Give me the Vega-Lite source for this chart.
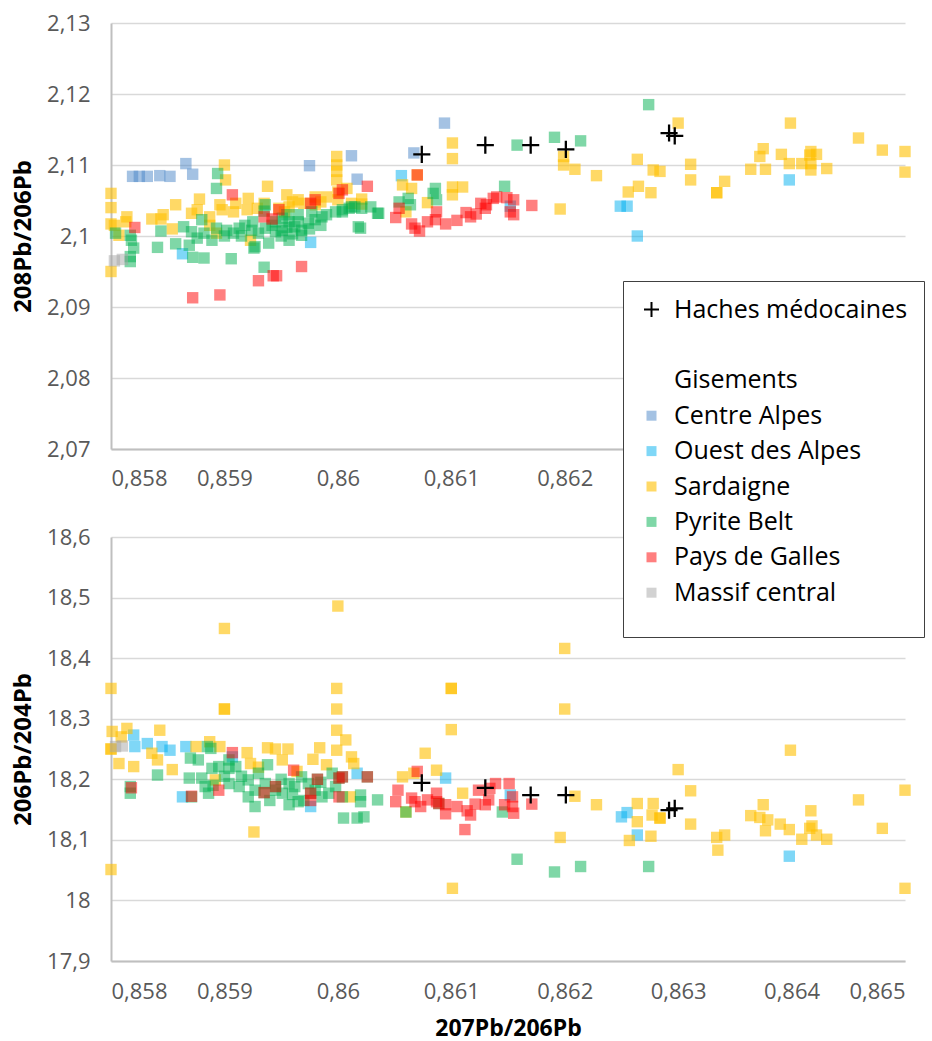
{
  "$schema": "https://vega.github.io/schema/vega-lite/v6.json",
  "background": "white",
  "padding": {"left": 11, "top": 12, "right": 0, "bottom": 0},
  "spacing": 88,
  "bounds": "flush",
  "config": {
    "view": {"stroke": null},
    "axis": {
      "labelFont": "Open Sans", "labelFontSize": 22, "labelColor": "#595959",
      "titleFont": "Open Sans", "titleFontSize": 24, "titleFontWeight": "bold", "titleColor": "#000000",
      "gridColor": "#d9d9d9", "gridWidth": 1.5, "domainColor": "#bfbfbf", "domainWidth": 2, "ticks": false
    },
    "legend": {
      "orient": "none", "legendX": 512, "legendY": 258, "zindex": 5,
      "titleOrient": "bottom", "titleFont": "Open Sans", "titleFontSize": 10, "titlePadding": 5,
      "labelFont": "Open Sans", "labelFontSize": 25, "labelColor": "#000000", "labelLimit": 400,
      "rowPadding": 9.4, "labelOffset": 10, "padding": 16,
      "strokeColor": "#404040", "fillColor": "#ffffff", "symbolStrokeWidth": 0
    }
  },
  "datasets": {
    "haut": [
      {"g":"Centre Alpes","x":0.85819,"y":2.1084},{"g":"Centre Alpes","x":0.85825,"y":2.1084},{"g":"Centre Alpes","x":0.85832,"y":2.1084},{"g":"Centre Alpes","x":0.85843,"y":2.1085},{"g":"Centre Alpes","x":0.85852,"y":2.1084},{"g":"Centre Alpes","x":0.85866,"y":2.1102},{"g":"Centre Alpes","x":0.85872,"y":2.1087},{"g":"Centre Alpes","x":0.85975,"y":2.1099},{"g":"Centre Alpes","x":0.86012,"y":2.1113},{"g":"Centre Alpes","x":0.86017,"y":2.108},{"g":"Centre Alpes","x":0.86067,"y":2.1117},{"g":"Centre Alpes","x":0.86094,"y":2.1159},
      {"g":"Ouest des Alpes","x":0.85863,"y":2.0975},{"g":"Ouest des Alpes","x":0.85976,"y":2.0991},{"g":"Ouest des Alpes","x":0.86056,"y":2.1085},{"g":"Ouest des Alpes","x":0.86152,"y":2.1042},{"g":"Ouest des Alpes","x":0.86249,"y":2.1042},{"g":"Ouest des Alpes","x":0.86255,"y":2.1042},{"g":"Ouest des Alpes","x":0.86264,"y":2.1},{"g":"Ouest des Alpes","x":0.86398,"y":2.1079},
      {"g":"Sardaigne","x":0.858,"y":2.106},{"g":"Sardaigne","x":0.858,"y":2.104},{"g":"Sardaigne","x":0.858,"y":2.1017},{"g":"Sardaigne","x":0.85803,"y":2.1015},{"g":"Sardaigne","x":0.85807,"y":2.1001},{"g":"Sardaigne","x":0.85813,"y":2.102},{"g":"Sardaigne","x":0.85814,"y":2.1027},{"g":"Sardaigne","x":0.858,"y":2.095},{"g":"Sardaigne","x":0.85836,"y":2.1024},{"g":"Sardaigne","x":0.85844,"y":2.1024},{"g":"Sardaigne","x":0.85846,"y":2.103},{"g":"Sardaigne","x":0.85854,"y":2.101},{"g":"Sardaigne","x":0.85857,"y":2.1044},{"g":"Sardaigne","x":0.85871,"y":2.1032},{"g":"Sardaigne","x":0.85876,"y":2.1037},{"g":"Sardaigne","x":0.85878,"y":2.1052},{"g":"Sardaigne","x":0.85887,"y":2.1027},{"g":"Sardaigne","x":0.85887,"y":2.1015},{"g":"Sardaigne","x":0.85893,"y":2.1004},{"g":"Sardaigne","x":0.85896,"y":2.1044},{"g":"Sardaigne","x":0.85898,"y":2.1037},{"g":"Sardaigne","x":0.859,"y":2.11},{"g":"Sardaigne","x":0.85901,"y":2.1079},{"g":"Sardaigne","x":0.85908,"y":2.1034},{"g":"Sardaigne","x":0.8591,"y":2.1046},{"g":"Sardaigne","x":0.8592,"y":2.1037},{"g":"Sardaigne","x":0.85921,"y":2.1053},{"g":"Sardaigne","x":0.85923,"y":2.0994},{"g":"Sardaigne","x":0.85929,"y":2.1039},{"g":"Sardaigne","x":0.85935,"y":2.1046},{"g":"Sardaigne","x":0.85938,"y":2.107},{"g":"Sardaigne","x":0.85948,"y":2.1039},{"g":"Sardaigne","x":0.85953,"y":2.1034},{"g":"Sardaigne","x":0.85955,"y":2.1058},{"g":"Sardaigne","x":0.85957,"y":2.1041},{"g":"Sardaigne","x":0.8596,"y":2.1048},{"g":"Sardaigne","x":0.85965,"y":2.1051},{"g":"Sardaigne","x":0.8597,"y":2.1046},{"g":"Sardaigne","x":0.8598,"y":2.1055},{"g":"Sardaigne","x":0.8598,"y":2.1044},{"g":"Sardaigne","x":0.85985,"y":2.1048},{"g":"Sardaigne","x":0.8599,"y":2.1055},{"g":"Sardaigne","x":0.85999,"y":2.1112},{"g":"Sardaigne","x":0.85999,"y":2.11},{"g":"Sardaigne","x":0.85999,"y":2.1091},{"g":"Sardaigne","x":0.85999,"y":2.1079},{"g":"Sardaigne","x":0.86,"y":2.1062},{"g":"Sardaigne","x":0.86,"y":2.1051},{"g":"Sardaigne","x":0.86008,"y":2.1067},{"g":"Sardaigne","x":0.86012,"y":2.1046},{"g":"Sardaigne","x":0.86021,"y":2.1052},{"g":"Sardaigne","x":0.86021,"y":2.1045},{"g":"Sardaigne","x":0.86057,"y":2.1072},{"g":"Sardaigne","x":0.8606,"y":2.1034},{"g":"Sardaigne","x":0.86065,"y":2.1067},{"g":"Sardaigne","x":0.8607,"y":2.1086},{"g":"Sardaigne","x":0.86079,"y":2.1047},{"g":"Sardaigne","x":0.86101,"y":2.1131},{"g":"Sardaigne","x":0.86101,"y":2.1109},{"g":"Sardaigne","x":0.86101,"y":2.1069},{"g":"Sardaigne","x":0.86101,"y":2.1058},{"g":"Sardaigne","x":0.8611,"y":2.1069},{"g":"Sardaigne","x":0.86196,"y":2.1038},{"g":"Sardaigne","x":0.86199,"y":2.1112},{"g":"Sardaigne","x":0.86199,"y":2.11},{"g":"Sardaigne","x":0.86209,"y":2.1094},{"g":"Sardaigne","x":0.86228,"y":2.1085},{"g":"Sardaigne","x":0.86256,"y":2.1062},{"g":"Sardaigne","x":0.86264,"y":2.1108},{"g":"Sardaigne","x":0.86265,"y":2.107},{"g":"Sardaigne","x":0.86276,"y":2.1061},{"g":"Sardaigne","x":0.86278,"y":2.1093},{"g":"Sardaigne","x":0.86284,"y":2.1091},{"g":"Sardaigne","x":0.863,"y":2.1159},{"g":"Sardaigne","x":0.86311,"y":2.1101},{"g":"Sardaigne","x":0.86311,"y":2.1079},{"g":"Sardaigne","x":0.86334,"y":2.1061},{"g":"Sardaigne","x":0.86334,"y":2.1061},{"g":"Sardaigne","x":0.86341,"y":2.1077},{"g":"Sardaigne","x":0.86364,"y":2.1094},{"g":"Sardaigne","x":0.86372,"y":2.1112},{"g":"Sardaigne","x":0.86375,"y":2.1123},{"g":"Sardaigne","x":0.86377,"y":2.1094},{"g":"Sardaigne","x":0.86391,"y":2.1115},{"g":"Sardaigne","x":0.86399,"y":2.1159},{"g":"Sardaigne","x":0.86398,"y":2.1102},{"g":"Sardaigne","x":0.86409,"y":2.1102},{"g":"Sardaigne","x":0.86416,"y":2.1114},{"g":"Sardaigne","x":0.86417,"y":2.1119},{"g":"Sardaigne","x":0.86422,"y":2.1115},{"g":"Sardaigne","x":0.86417,"y":2.1093},{"g":"Sardaigne","x":0.86417,"y":2.1102},{"g":"Sardaigne","x":0.86431,"y":2.1095},{"g":"Sardaigne","x":0.86459,"y":2.1138},{"g":"Sardaigne","x":0.8648,"y":2.1121},{"g":"Sardaigne","x":0.865,"y":2.1119},{"g":"Sardaigne","x":0.865,"y":2.109},
      {"g":"Pyrite Belt","x":0.85804,"y":2.1004},{"g":"Pyrite Belt","x":0.85817,"y":2.1001},{"g":"Pyrite Belt","x":0.85818,"y":2.0994},{"g":"Pyrite Belt","x":0.8582,"y":2.0983},{"g":"Pyrite Belt","x":0.85817,"y":2.0971},{"g":"Pyrite Belt","x":0.85817,"y":2.0964},{"g":"Pyrite Belt","x":0.85841,"y":2.0984},{"g":"Pyrite Belt","x":0.85844,"y":2.1007},{"g":"Pyrite Belt","x":0.85857,"y":2.0989},{"g":"Pyrite Belt","x":0.85864,"y":2.1013},{"g":"Pyrite Belt","x":0.85869,"y":2.0987},{"g":"Pyrite Belt","x":0.85871,"y":2.1006},{"g":"Pyrite Belt","x":0.85872,"y":2.097},{"g":"Pyrite Belt","x":0.85876,"y":2.0997},{"g":"Pyrite Belt","x":0.8588,"y":2.1023},{"g":"Pyrite Belt","x":0.85882,"y":2.1004},{"g":"Pyrite Belt","x":0.85882,"y":2.0969},{"g":"Pyrite Belt","x":0.85889,"y":2.0994},{"g":"Pyrite Belt","x":0.85893,"y":2.1011},{"g":"Pyrite Belt","x":0.85893,"y":2.1067},{"g":"Pyrite Belt","x":0.85894,"y":2.1088},{"g":"Pyrite Belt","x":0.859,"y":2.1},{"g":"Pyrite Belt","x":0.85902,"y":2.1008},{"g":"Pyrite Belt","x":0.85906,"y":2.0968},{"g":"Pyrite Belt","x":0.85908,"y":2.1004},{"g":"Pyrite Belt","x":0.85913,"y":2.1011},{"g":"Pyrite Belt","x":0.85915,"y":2.1},{"g":"Pyrite Belt","x":0.85918,"y":2.1015},{"g":"Pyrite Belt","x":0.85924,"y":2.1008},{"g":"Pyrite Belt","x":0.85925,"y":2.102},{"g":"Pyrite Belt","x":0.85926,"y":2.0983},{"g":"Pyrite Belt","x":0.85927,"y":2.0985},{"g":"Pyrite Belt","x":0.8593,"y":2.1004},{"g":"Pyrite Belt","x":0.85935,"y":2.0956},{"g":"Pyrite Belt","x":0.85935,"y":2.1035},{"g":"Pyrite Belt","x":0.85936,"y":2.1011},{"g":"Pyrite Belt","x":0.85936,"y":2.1044},{"g":"Pyrite Belt","x":0.85939,"y":2.099},{"g":"Pyrite Belt","x":0.85942,"y":2.1015},{"g":"Pyrite Belt","x":0.85945,"y":2.1006},{"g":"Pyrite Belt","x":0.85945,"y":2.102},{"g":"Pyrite Belt","x":0.8595,"y":2.1},{"g":"Pyrite Belt","x":0.85951,"y":2.1008},{"g":"Pyrite Belt","x":0.85951,"y":2.1025},{"g":"Pyrite Belt","x":0.85955,"y":2.1012},{"g":"Pyrite Belt","x":0.85955,"y":2.103},{"g":"Pyrite Belt","x":0.85957,"y":2.102},{"g":"Pyrite Belt","x":0.85957,"y":2.0994},{"g":"Pyrite Belt","x":0.8596,"y":2.1003},{"g":"Pyrite Belt","x":0.85962,"y":2.1013},{"g":"Pyrite Belt","x":0.85965,"y":2.103},{"g":"Pyrite Belt","x":0.85965,"y":2.102},{"g":"Pyrite Belt","x":0.85968,"y":2.1008},{"g":"Pyrite Belt","x":0.85968,"y":2.1001},{"g":"Pyrite Belt","x":0.85974,"y":2.1018},{"g":"Pyrite Belt","x":0.85975,"y":2.101},{"g":"Pyrite Belt","x":0.85977,"y":2.1034},{"g":"Pyrite Belt","x":0.8598,"y":2.1023},{"g":"Pyrite Belt","x":0.85985,"y":2.1015},{"g":"Pyrite Belt","x":0.85986,"y":2.1027},{"g":"Pyrite Belt","x":0.8599,"y":2.103},{"g":"Pyrite Belt","x":0.85998,"y":2.1034},{"g":"Pyrite Belt","x":0.86004,"y":2.1037},{"g":"Pyrite Belt","x":0.86004,"y":2.1034},{"g":"Pyrite Belt","x":0.8601,"y":2.1039},{"g":"Pyrite Belt","x":0.86012,"y":2.1041},{"g":"Pyrite Belt","x":0.86015,"y":2.1041},{"g":"Pyrite Belt","x":0.86018,"y":2.1013},{"g":"Pyrite Belt","x":0.8602,"y":2.1011},{"g":"Pyrite Belt","x":0.86021,"y":2.1039},{"g":"Pyrite Belt","x":0.86029,"y":2.1041},{"g":"Pyrite Belt","x":0.86035,"y":2.1032},{"g":"Pyrite Belt","x":0.86036,"y":2.1032},{"g":"Pyrite Belt","x":0.86054,"y":2.1048},{"g":"Pyrite Belt","x":0.86062,"y":2.1053},{"g":"Pyrite Belt","x":0.86064,"y":2.1044},{"g":"Pyrite Belt","x":0.86084,"y":2.106},{"g":"Pyrite Belt","x":0.86086,"y":2.1067},{"g":"Pyrite Belt","x":0.86087,"y":2.1051},{"g":"Pyrite Belt","x":0.86147,"y":2.107},{"g":"Pyrite Belt","x":0.86158,"y":2.1128},{"g":"Pyrite Belt","x":0.86191,"y":2.1139},{"g":"Pyrite Belt","x":0.86214,"y":2.1134},{"g":"Pyrite Belt","x":0.86274,"y":2.1185},
      {"g":"Pays de Galles","x":0.85821,"y":2.1012},{"g":"Pays de Galles","x":0.85872,"y":2.0913},{"g":"Pays de Galles","x":0.85896,"y":2.0917},{"g":"Pays de Galles","x":0.85907,"y":2.1058},{"g":"Pays de Galles","x":0.8593,"y":2.0937},{"g":"Pays de Galles","x":0.85935,"y":2.1027},{"g":"Pays de Galles","x":0.85942,"y":2.1024},{"g":"Pays de Galles","x":0.85943,"y":2.0944},{"g":"Pays de Galles","x":0.85946,"y":2.0944},{"g":"Pays de Galles","x":0.85948,"y":2.1037},{"g":"Pays de Galles","x":0.85968,"y":2.0957},{"g":"Pays de Galles","x":0.85976,"y":2.1046},{"g":"Pays de Galles","x":0.8598,"y":2.1051},{"g":"Pays de Galles","x":0.86001,"y":2.106},{"g":"Pays de Galles","x":0.86004,"y":2.1065},{"g":"Pays de Galles","x":0.86026,"y":2.107},{"g":"Pays de Galles","x":0.86051,"y":2.1026},{"g":"Pays de Galles","x":0.86054,"y":2.1039},{"g":"Pays de Galles","x":0.86065,"y":2.1017},{"g":"Pays de Galles","x":0.86068,"y":2.1011},{"g":"Pays de Galles","x":0.8607,"y":2.1086},{"g":"Pays de Galles","x":0.86072,"y":2.1007},{"g":"Pays de Galles","x":0.86079,"y":2.102},{"g":"Pays de Galles","x":0.86086,"y":2.1023},{"g":"Pays de Galles","x":0.86087,"y":2.1034},{"g":"Pays de Galles","x":0.86095,"y":2.1017},{"g":"Pays de Galles","x":0.86105,"y":2.1022},{"g":"Pays de Galles","x":0.86113,"y":2.1033},{"g":"Pays de Galles","x":0.86117,"y":2.1027},{"g":"Pays de Galles","x":0.86122,"y":2.1031},{"g":"Pays de Galles","x":0.86126,"y":2.1046},{"g":"Pays de Galles","x":0.8613,"y":2.1039},{"g":"Pays de Galles","x":0.86131,"y":2.1044},{"g":"Pays de Galles","x":0.86137,"y":2.1053},{"g":"Pays de Galles","x":0.8614,"y":2.1055},{"g":"Pays de Galles","x":0.86149,"y":2.1054},{"g":"Pays de Galles","x":0.86152,"y":2.1034},{"g":"Pays de Galles","x":0.86155,"y":2.1051},{"g":"Pays de Galles","x":0.86155,"y":2.103},{"g":"Pays de Galles","x":0.86171,"y":2.1043},
      {"g":"Massif central","x":0.85803,"y":2.0965},{"g":"Massif central","x":0.8581,"y":2.0967},
      {"g":"Haches médocaines","x":0.86074,"y":2.1115},{"g":"Haches médocaines","x":0.8613,"y":2.1128},{"g":"Haches médocaines","x":0.8617,"y":2.1128},{"g":"Haches médocaines","x":0.86201,"y":2.1122},{"g":"Haches médocaines","x":0.86292,"y":2.1145},{"g":"Haches médocaines","x":0.86297,"y":2.1141}
    ],
    "bas": [
      {"g":"Ouest des Alpes","x":0.8582,"y":18.273},{"g":"Ouest des Alpes","x":0.85821,"y":18.254},{"g":"Ouest des Alpes","x":0.85832,"y":18.259},{"g":"Ouest des Alpes","x":0.85845,"y":18.254},{"g":"Ouest des Alpes","x":0.85852,"y":18.248},{"g":"Ouest des Alpes","x":0.85866,"y":18.254},{"g":"Ouest des Alpes","x":0.85863,"y":18.171},{"g":"Ouest des Alpes","x":0.85907,"y":18.237},{"g":"Ouest des Alpes","x":0.85976,"y":18.155},{"g":"Ouest des Alpes","x":0.86017,"y":18.21},{"g":"Ouest des Alpes","x":0.86095,"y":18.202},{"g":"Ouest des Alpes","x":0.86152,"y":18.174},{"g":"Ouest des Alpes","x":0.8625,"y":18.138},{"g":"Ouest des Alpes","x":0.86255,"y":18.145},{"g":"Ouest des Alpes","x":0.86264,"y":18.108},{"g":"Ouest des Alpes","x":0.86398,"y":18.073},
      {"g":"Sardaigne","x":0.858,"y":18.35},{"g":"Sardaigne","x":0.858,"y":18.25},{"g":"Sardaigne","x":0.858,"y":18.25},{"g":"Sardaigne","x":0.85801,"y":18.279},{"g":"Sardaigne","x":0.85809,"y":18.27},{"g":"Sardaigne","x":0.85814,"y":18.284},{"g":"Sardaigne","x":0.858,"y":18.051},{"g":"Sardaigne","x":0.85807,"y":18.226},{"g":"Sardaigne","x":0.8582,"y":18.221},{"g":"Sardaigne","x":0.85836,"y":18.243},{"g":"Sardaigne","x":0.85841,"y":18.232},{"g":"Sardaigne","x":0.85843,"y":18.281},{"g":"Sardaigne","x":0.85854,"y":18.216},{"g":"Sardaigne","x":0.85875,"y":18.254},{"g":"Sardaigne","x":0.85887,"y":18.262},{"g":"Sardaigne","x":0.85892,"y":18.199},{"g":"Sardaigne","x":0.85896,"y":18.254},{"g":"Sardaigne","x":0.859,"y":18.449},{"g":"Sardaigne","x":0.859,"y":18.316},{"g":"Sardaigne","x":0.859,"y":18.316},{"g":"Sardaigne","x":0.8592,"y":18.244},{"g":"Sardaigne","x":0.85923,"y":18.226},{"g":"Sardaigne","x":0.85926,"y":18.113},{"g":"Sardaigne","x":0.8593,"y":18.22},{"g":"Sardaigne","x":0.85938,"y":18.252},{"g":"Sardaigne","x":0.85945,"y":18.25},{"g":"Sardaigne","x":0.85951,"y":18.232},{"g":"Sardaigne","x":0.85956,"y":18.25},{"g":"Sardaigne","x":0.85964,"y":18.213},{"g":"Sardaigne","x":0.85978,"y":18.233},{"g":"Sardaigne","x":0.85984,"y":18.252},{"g":"Sardaigne","x":0.8599,"y":18.224},{"g":"Sardaigne","x":0.86,"y":18.486},{"g":"Sardaigne","x":0.85999,"y":18.35},{"g":"Sardaigne","x":0.85999,"y":18.316},{"g":"Sardaigne","x":0.85999,"y":18.281},{"g":"Sardaigne","x":0.85999,"y":18.248},{"g":"Sardaigne","x":0.86007,"y":18.265},{"g":"Sardaigne","x":0.86011,"y":18.171},{"g":"Sardaigne","x":0.86012,"y":18.237},{"g":"Sardaigne","x":0.86014,"y":18.226},{"g":"Sardaigne","x":0.86057,"y":18.204},{"g":"Sardaigne","x":0.8606,"y":18.146},{"g":"Sardaigne","x":0.86067,"y":18.21},{"g":"Sardaigne","x":0.86077,"y":18.243},{"g":"Sardaigne","x":0.86087,"y":18.215},{"g":"Sardaigne","x":0.861,"y":18.35},{"g":"Sardaigne","x":0.861,"y":18.35},{"g":"Sardaigne","x":0.861,"y":18.282},{"g":"Sardaigne","x":0.86101,"y":18.02},{"g":"Sardaigne","x":0.8611,"y":18.177},{"g":"Sardaigne","x":0.86196,"y":18.104},{"g":"Sardaigne","x":0.862,"y":18.416},{"g":"Sardaigne","x":0.862,"y":18.316},{"g":"Sardaigne","x":0.86209,"y":18.172},{"g":"Sardaigne","x":0.86228,"y":18.158},{"g":"Sardaigne","x":0.86257,"y":18.099},{"g":"Sardaigne","x":0.86264,"y":18.16},{"g":"Sardaigne","x":0.86264,"y":18.13},{"g":"Sardaigne","x":0.86276,"y":18.106},{"g":"Sardaigne","x":0.86277,"y":18.141},{"g":"Sardaigne","x":0.86278,"y":18.16},{"g":"Sardaigne","x":0.86284,"y":18.136},{"g":"Sardaigne","x":0.86284,"y":18.136},{"g":"Sardaigne","x":0.863,"y":18.216},{"g":"Sardaigne","x":0.86311,"y":18.181},{"g":"Sardaigne","x":0.86311,"y":18.126},{"g":"Sardaigne","x":0.86334,"y":18.104},{"g":"Sardaigne","x":0.86335,"y":18.083},{"g":"Sardaigne","x":0.86341,"y":18.108},{"g":"Sardaigne","x":0.86364,"y":18.14},{"g":"Sardaigne","x":0.86372,"y":18.137},{"g":"Sardaigne","x":0.86375,"y":18.158},{"g":"Sardaigne","x":0.86377,"y":18.115},{"g":"Sardaigne","x":0.86379,"y":18.133},{"g":"Sardaigne","x":0.8639,"y":18.126},{"g":"Sardaigne","x":0.86398,"y":18.117},{"g":"Sardaigne","x":0.86399,"y":18.248},{"g":"Sardaigne","x":0.86409,"y":18.101},{"g":"Sardaigne","x":0.86416,"y":18.119},{"g":"Sardaigne","x":0.86417,"y":18.148},{"g":"Sardaigne","x":0.86418,"y":18.123},{"g":"Sardaigne","x":0.86422,"y":18.108},{"g":"Sardaigne","x":0.86431,"y":18.101},{"g":"Sardaigne","x":0.86459,"y":18.166},{"g":"Sardaigne","x":0.8648,"y":18.119},{"g":"Sardaigne","x":0.865,"y":18.182},{"g":"Sardaigne","x":0.865,"y":18.02},
      {"g":"Pyrite Belt","x":0.85817,"y":18.188},{"g":"Pyrite Belt","x":0.85817,"y":18.177},{"g":"Pyrite Belt","x":0.85841,"y":18.207},{"g":"Pyrite Belt","x":0.85869,"y":18.202},{"g":"Pyrite Belt","x":0.85871,"y":18.171},{"g":"Pyrite Belt","x":0.8587,"y":18.235},{"g":"Pyrite Belt","x":0.85877,"y":18.232},{"g":"Pyrite Belt","x":0.8588,"y":18.202},{"g":"Pyrite Belt","x":0.85883,"y":18.188},{"g":"Pyrite Belt","x":0.85885,"y":18.254},{"g":"Pyrite Belt","x":0.85886,"y":18.177},{"g":"Pyrite Belt","x":0.85888,"y":18.251},{"g":"Pyrite Belt","x":0.85889,"y":18.218},{"g":"Pyrite Belt","x":0.8589,"y":18.19},{"g":"Pyrite Belt","x":0.85895,"y":18.221},{"g":"Pyrite Belt","x":0.859,"y":18.205},{"g":"Pyrite Belt","x":0.85904,"y":18.218},{"g":"Pyrite Belt","x":0.85904,"y":18.193},{"g":"Pyrite Belt","x":0.85904,"y":18.232},{"g":"Pyrite Belt","x":0.8591,"y":18.221},{"g":"Pyrite Belt","x":0.85913,"y":18.188},{"g":"Pyrite Belt","x":0.85915,"y":18.205},{"g":"Pyrite Belt","x":0.85921,"y":18.199},{"g":"Pyrite Belt","x":0.85921,"y":18.171},{"g":"Pyrite Belt","x":0.85927,"y":18.182},{"g":"Pyrite Belt","x":0.85927,"y":18.155},{"g":"Pyrite Belt","x":0.8593,"y":18.21},{"g":"Pyrite Belt","x":0.85935,"y":18.178},{"g":"Pyrite Belt","x":0.85936,"y":18.193},{"g":"Pyrite Belt","x":0.85938,"y":18.224},{"g":"Pyrite Belt","x":0.8594,"y":18.165},{"g":"Pyrite Belt","x":0.85945,"y":18.182},{"g":"Pyrite Belt","x":0.85945,"y":18.188},{"g":"Pyrite Belt","x":0.8595,"y":18.2},{"g":"Pyrite Belt","x":0.85951,"y":18.177},{"g":"Pyrite Belt","x":0.85957,"y":18.193},{"g":"Pyrite Belt","x":0.85957,"y":18.158},{"g":"Pyrite Belt","x":0.8596,"y":18.175},{"g":"Pyrite Belt","x":0.85962,"y":18.188},{"g":"Pyrite Belt","x":0.85965,"y":18.163},{"g":"Pyrite Belt","x":0.85968,"y":18.204},{"g":"Pyrite Belt","x":0.8597,"y":18.165},{"g":"Pyrite Belt","x":0.85974,"y":18.193},{"g":"Pyrite Belt","x":0.85976,"y":18.177},{"g":"Pyrite Belt","x":0.8598,"y":18.182},{"g":"Pyrite Belt","x":0.85982,"y":18.2},{"g":"Pyrite Belt","x":0.85985,"y":18.195},{"g":"Pyrite Belt","x":0.85986,"y":18.171},{"g":"Pyrite Belt","x":0.85992,"y":18.177},{"g":"Pyrite Belt","x":0.85995,"y":18.21},{"g":"Pyrite Belt","x":0.85998,"y":18.188},{"g":"Pyrite Belt","x":0.86001,"y":18.202},{"g":"Pyrite Belt","x":0.86004,"y":18.171},{"g":"Pyrite Belt","x":0.86004,"y":18.204},{"g":"Pyrite Belt","x":0.86005,"y":18.136},{"g":"Pyrite Belt","x":0.86017,"y":18.136},{"g":"Pyrite Belt","x":0.8602,"y":18.174},{"g":"Pyrite Belt","x":0.8602,"y":18.163},{"g":"Pyrite Belt","x":0.86023,"y":18.138},{"g":"Pyrite Belt","x":0.86026,"y":18.204},{"g":"Pyrite Belt","x":0.86035,"y":18.166},{"g":"Pyrite Belt","x":0.8606,"y":18.146},{"g":"Pyrite Belt","x":0.86089,"y":18.16},{"g":"Pyrite Belt","x":0.86145,"y":18.146},{"g":"Pyrite Belt","x":0.86158,"y":18.068},{"g":"Pyrite Belt","x":0.86191,"y":18.047},{"g":"Pyrite Belt","x":0.86214,"y":18.056},{"g":"Pyrite Belt","x":0.86274,"y":18.056},
      {"g":"Pays de Galles","x":0.85818,"y":18.186},{"g":"Pays de Galles","x":0.85871,"y":18.172},{"g":"Pays de Galles","x":0.85895,"y":18.182},{"g":"Pays de Galles","x":0.85907,"y":18.244},{"g":"Pays de Galles","x":0.85935,"y":18.178},{"g":"Pays de Galles","x":0.85945,"y":18.188},{"g":"Pays de Galles","x":0.85961,"y":18.215},{"g":"Pays de Galles","x":0.85976,"y":18.165},{"g":"Pays de Galles","x":0.85976,"y":18.177},{"g":"Pays de Galles","x":0.85982,"y":18.2},{"g":"Pays de Galles","x":0.86001,"y":18.171},{"g":"Pays de Galles","x":0.86001,"y":18.202},{"g":"Pays de Galles","x":0.86004,"y":18.204},{"g":"Pays de Galles","x":0.86026,"y":18.204},{"g":"Pays de Galles","x":0.86051,"y":18.163},{"g":"Pays de Galles","x":0.86053,"y":18.182},{"g":"Pays de Galles","x":0.86065,"y":18.169},{"g":"Pays de Galles","x":0.86068,"y":18.163},{"g":"Pays de Galles","x":0.8607,"y":18.213},{"g":"Pays de Galles","x":0.86073,"y":18.155},{"g":"Pays de Galles","x":0.86079,"y":18.166},{"g":"Pays de Galles","x":0.86087,"y":18.177},{"g":"Pays de Galles","x":0.86087,"y":18.163},{"g":"Pays de Galles","x":0.86089,"y":18.16},{"g":"Pays de Galles","x":0.86095,"y":18.158},{"g":"Pays de Galles","x":0.86095,"y":18.143},{"g":"Pays de Galles","x":0.86105,"y":18.155},{"g":"Pays de Galles","x":0.86112,"y":18.117},{"g":"Pays de Galles","x":0.86114,"y":18.148},{"g":"Pays de Galles","x":0.86117,"y":18.141},{"g":"Pays de Galles","x":0.86121,"y":18.159},{"g":"Pays de Galles","x":0.86124,"y":18.182},{"g":"Pays de Galles","x":0.8613,"y":18.158},{"g":"Pays de Galles","x":0.86133,"y":18.166},{"g":"Pays de Galles","x":0.86134,"y":18.185},{"g":"Pays de Galles","x":0.86139,"y":18.193},{"g":"Pays de Galles","x":0.86147,"y":18.158},{"g":"Pays de Galles","x":0.86151,"y":18.193},{"g":"Pays de Galles","x":0.86154,"y":18.155},{"g":"Pays de Galles","x":0.86154,"y":18.171},{"g":"Pays de Galles","x":0.86155,"y":18.144},{"g":"Pays de Galles","x":0.86171,"y":18.159},
      {"g":"Massif central","x":0.85804,"y":18.254},{"g":"Massif central","x":0.8581,"y":18.255},
      {"g":"Haches médocaines","x":0.86074,"y":18.194},{"g":"Haches médocaines","x":0.8613,"y":18.186},{"g":"Haches médocaines","x":0.8617,"y":18.174},{"g":"Haches médocaines","x":0.86201,"y":18.174},{"g":"Haches médocaines","x":0.86292,"y":18.149},{"g":"Haches médocaines","x":0.86297,"y":18.152}
    ]
  },
  "vconcat": [
    {
      "width": 794,
      "height": 426,
      "data": {"name": "haut"},
      "mark": {"type": "point", "filled": true, "opacity": 1, "size": 130},
      "encoding": {
        "x": {"field": "x", "type": "quantitative",
          "scale": {"domain": [0.858, 0.865], "nice": false, "zero": false},
          "axis": {"values": [0.858, 0.859, 0.86, 0.861, 0.862], "labelExpr": "replace(format(datum.value, '.3~f'), '.', ',')", "title": null, "labelPadding": 19, "grid": false}},
        "y": {"field": "y", "type": "quantitative",
          "scale": {"domain": [2.07, 2.13], "nice": false, "zero": false},
          "axis": {"values": [2.07, 2.08, 2.09, 2.1, 2.11, 2.12, 2.13], "labelExpr": "replace(format(datum.value, '.2~f'), '.', ',')", "title": "208Pb/206Pb", "labelPadding": 21, "titlePadding": 11}},
        "color": {"field": "g", "type": "nominal",
          "scale": {"domain": ["Haches médocaines", " ", "Gisements", "Centre Alpes", "Ouest des Alpes", "Sardaigne", "Pyrite Belt", "Pays de Galles", "Massif central"],
                    "range": ["#000000", "rgba(0,0,0,0)", "rgba(0,0,0,0)", "rgba(74,134,200,0.5)", "rgba(0,176,240,0.5)", "rgba(255,192,0,0.6)", "rgba(0,176,80,0.5)", "rgba(255,0,0,0.5)", "rgba(166,166,166,0.5)"]},
          "legend": {"title": " "}},
        "shape": {"field": "g", "type": "nominal",
          "scale": {"domain": ["Haches médocaines", " ", "Gisements", "Centre Alpes", "Ouest des Alpes", "Sardaigne", "Pyrite Belt", "Pays de Galles", "Massif central"],
                    "range": ["M-1.5,-0.2H-0.2V-1.5H0.2V-0.2H1.5V0.2H0.2V1.5H-0.2V0.2H-1.5Z", "square", "square", "square", "square", "square", "square", "square", "square"]},
          "legend": {"title": " "}}
      }
    },
    {
      "width": 794,
      "height": 424,
      "data": {"name": "bas"},
      "mark": {"type": "point", "filled": true, "opacity": 1, "size": 130},
      "encoding": {
        "x": {"field": "x", "type": "quantitative",
          "scale": {"domain": [0.858, 0.865], "nice": false, "zero": false},
          "axis": {"values": [0.858, 0.859, 0.86, 0.861, 0.862, 0.863, 0.864, 0.865], "labelExpr": "replace(format(datum.value, '.3~f'), '.', ',')", "title": "207Pb/206Pb", "titleFontSize": 23, "labelPadding": 20, "titlePadding": 15, "grid": false}},
        "y": {"field": "y", "type": "quantitative",
          "scale": {"domain": [17.9, 18.6], "nice": false, "zero": false},
          "axis": {"values": [17.9, 18, 18.1, 18.2, 18.3, 18.4, 18.5, 18.6], "labelExpr": "replace(format(datum.value, '.1~f'), '.', ',')", "title": "206Pb/204Pb", "labelPadding": 21, "titlePadding": 11}},
        "color": {"field": "g", "type": "nominal",
          "scale": {"domain": ["Haches médocaines", " ", "Gisements", "Centre Alpes", "Ouest des Alpes", "Sardaigne", "Pyrite Belt", "Pays de Galles", "Massif central"],
                    "range": ["#000000", "rgba(0,0,0,0)", "rgba(0,0,0,0)", "rgba(74,134,200,0.5)", "rgba(0,176,240,0.5)", "rgba(255,192,0,0.6)", "rgba(0,176,80,0.5)", "rgba(255,0,0,0.5)", "rgba(166,166,166,0.5)"]},
          "legend": {"title": " "}},
        "shape": {"field": "g", "type": "nominal",
          "scale": {"domain": ["Haches médocaines", " ", "Gisements", "Centre Alpes", "Ouest des Alpes", "Sardaigne", "Pyrite Belt", "Pays de Galles", "Massif central"],
                    "range": ["M-1.5,-0.2H-0.2V-1.5H0.2V-0.2H1.5V0.2H0.2V1.5H-0.2V0.2H-1.5Z", "square", "square", "square", "square", "square", "square", "square", "square"]},
          "legend": {"title": " "}}
      }
    }
  ]
}
